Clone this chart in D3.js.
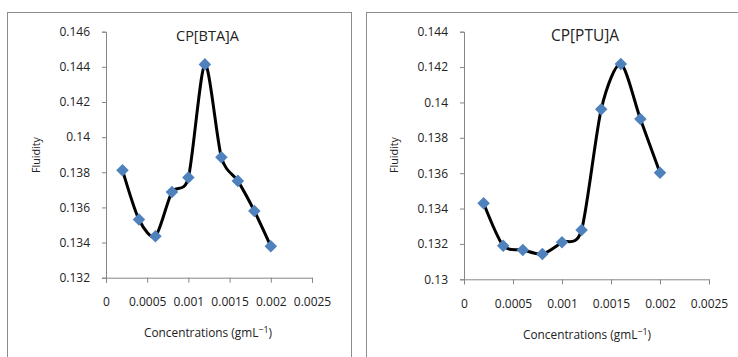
<!DOCTYPE html>
<html><head><meta charset="utf-8">
<script src="https://cdn.jsdelivr.net/npm/d3@7"></script>
<style>body{margin:0;background:#fff}svg{display:block}</style>
</head><body><svg id="c" width="738" height="357"></svg>
<script>
const concentrations = [0.0002,0.0004,0.0006,0.0008,0.001,0.0012,0.0014,0.0016,0.0018,0.002];
const fluidityBTA = [0.13812,0.13531,0.13436,0.13688,0.1377,0.14414,0.13886,0.13751,0.1358,0.13379];
const fluidityPTU = [0.1343,0.1319,0.13166,0.13143,0.13209,0.13279,0.13961,0.14217,0.13906,0.13603];
const xTicks = [0,0.0005,0.001,0.0015,0.002,0.0025];
const yTicksBTA = [0.132,0.134,0.136,0.138,0.14,0.142,0.144,0.146];
const yTicksPTU = [0.13,0.132,0.134,0.136,0.138,0.14,0.142,0.144];
const titles = ["CP[BTA]A","CP[PTU]A"];

const svg = d3.select("#c");
const font = "'Open Sans', 'DejaVu Sans', sans-serif";
const fmt = v => String(+v.toFixed(4));
function fit(sel, target) {
  const n = sel.node(); const cur = parseFloat(getComputedStyle(n).fontSize);
  const w = n.getComputedTextLength();
  if (w > 0) sel.style("font-size", (cur * target / w).toFixed(2) + "px");
}

const panels = [
  {frame:[7.5,12.5,344,360], x0:106, x1:312, yTop:31.7, yBot:277.7, yTicks:yTicksBTA, vals:fluidityBTA, title:titles[0], tx:207.5, tw:63, yl:40, labX:90, atx:208, aty:337},
  {frame:[366.5,12.5,380,360], x0:464, x1:709, yTop:31.7, yBot:279.3, yTicks:yTicksPTU, vals:fluidityPTU, title:titles[1], tx:585, tw:68, yl:398, labX:450, atx:587, aty:339}
];

panels.forEach(p => {
  const g = svg.append("g");
  g.append("rect").attr("x",p.frame[0]).attr("y",p.frame[1]).attr("width",p.frame[2]).attr("height",p.frame[3])
    .attr("fill","#fff").attr("stroke","#8c8c8c").attr("stroke-width",1);
  const x = d3.scaleLinear().domain([0,0.0025]).range([p.x0,p.x1]);
  const y = d3.scaleLinear().domain([p.yTicks[0],p.yTicks[p.yTicks.length-1]]).range([p.yBot,p.yTop]);
  const ya = g.append("g").attr("transform",`translate(${p.x0},0)`)
    .call(d3.axisLeft(y).tickValues(p.yTicks).tickFormat(fmt).tickSize(4).tickPadding(12));
  const xa = g.append("g").attr("transform",`translate(0,${p.yBot})`)
    .call(d3.axisBottom(x).tickValues(xTicks).tickFormat(fmt).tickSize(5).tickPadding(15));
  [ya,xa].forEach(a => {
    a.select(".domain").attr("stroke","#868686");
    a.selectAll(".tick line").attr("stroke","#868686");
    a.selectAll(".tick text").attr("fill","#222").style("font-family",font).style("font-size","12px");
  });
  const pts = concentrations.map((c,i)=>[c,p.vals[i]]);
  g.append("path").datum(pts)
    .attr("d", d3.line().x(d=>x(d[0])).y(d=>y(d[1])).curve(d3.curveCardinal.tension(0.2)))
    .attr("fill","none").attr("stroke","#000").attr("stroke-width",3);
  g.selectAll(".m").data(pts).enter().append("path")
    .attr("d", d3.symbol().type(d3.symbolDiamond2).size(100))
    .attr("transform", d=>`translate(${x(d[0])},${y(d[1])})`)
    .attr("fill","#4f81bd");
  const tt = g.append("text").attr("x",p.tx).attr("y",40.5).attr("text-anchor","middle")
    .style("font-family",font).style("font-size","13px").attr("fill","#222").text(p.title);
  fit(tt, p.tw);
  const fl = g.append("text").attr("transform",`translate(${p.yl},155) rotate(-90)`).attr("text-anchor","middle")
    .style("font-family",font).style("font-size","11px").attr("fill","#222").text("Fluidity");
  fit(fl, 36);
  const t = g.append("text").attr("x",p.atx).attr("y",p.aty).attr("text-anchor","middle")
    .style("font-family",font).style("font-size","11.5px").attr("fill","#222");
  t.append("tspan").text("Concentrations (gmL");
  t.append("tspan").attr("dy",-4).style("font-size","0.75em").text("−1");
  t.append("tspan").attr("dy",4).text(")");
  fit(t, 128);
});
</script></body></html>
